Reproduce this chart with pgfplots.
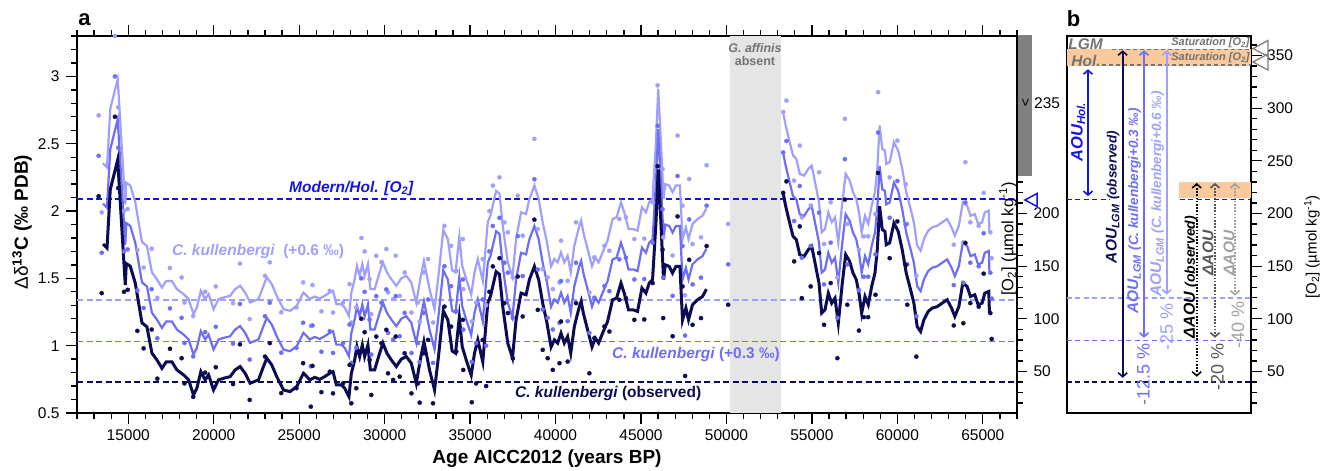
\documentclass[border=0pt]{standalone}
\usepackage{fontspec}
\setmainfont{Liberation Sans}
\usepackage{pgfplots}
\pgfplotsset{compat=1.18}
\usepackage{pgfplotstable}
\usetikzlibrary{arrows.meta}
\newcommand{\fs}[1]{\fontsize{#1}{#1}\selectfont}
\definecolor{navy}{RGB}{12,12,85}
\definecolor{midb}{RGB}{110,110,245}
\definecolor{lightb}{RGB}{160,160,252}
\definecolor{holblue}{RGB}{20,20,230}
\definecolor{gband}{RGB}{229,229,229}
\definecolor{gbar}{RGB}{128,128,128}
\definecolor{orangeb}{RGB}{250,201,156}
\definecolor{dgray}{RGB}{85,85,85}
\definecolor{lgray}{RGB}{160,160,160}
\definecolor{txtgray}{RGB}{115,115,115}

\pgfplotstableread{
a d
13522 1.755
13755 1.725
13948 2.16
14381 2.38
14825 1.45
14883 1.61
15117 1.59
15409 1.465
15800 1.17
16093 1.14
16385 0.944
16677 0.894
16969 0.832
17220 0.88
17553 0.88
17845 0.82
18235 0.783
18527 0.746
18820 0.634
19013 0.684
19247 0.807
19499 0.746
19698 0.783
19990 0.671
20282 0.746
20574 0.758
20960 0.77
21252 0.82
21544 0.845
21836 0.795
22128 0.721
22619 0.746
22911 0.845
23104 0.907
23396 0.857
23688 0.77
24080 0.671
24466 0.659
24857 0.696
25248 0.795
25450 0.77
25617 0.746
25909 0.765
26201 0.75
26493 0.77
26785 0.795
26980 0.807
27176 0.708
27468 0.708
27662 0.684
27913 0.621
28053 0.795
28246 0.894
28380 0.993
28539 0.919
28695 1.006
28830 0.919
29023 1.006
29163 0.82
29415 0.82
29707 0.944
29900 1.019
30134 0.944
30391 0.894
30683 0.845
30975 0.9
31267 0.919
31559 0.87
31851 0.72
32085 0.894
32300 1.03
32628 0.82
32920 0.671
33172 0.944
33430 1.26
33698 1.192
33950 0.96
34147 0.944
34370 1.21
34539 0.993
34773 0.894
35065 0.78
35258 0.944
35451 1.043
35743 0.88
36035 1.316
36200 1.37
36525 1.55
36719 1.53
36912 1.29
37204 1.019
37480 0.91
37691 1.192
37983 1.39
38275 1.378
38470 1.49
38762 1.589
39013 1.49
39247 1.316
39481 1.18
39738 0.99
39930 1.043
40125 1.019
40320 1.093
40514 1.019
40707 1.068
40890 0.944
41099 1.142
41391 1.29
41500 1.33
41625 1.242
41876 1.118
42133 0.99
42326 1.056
42519 1.019
42753 1.093
43045 1.18
43337 1.341
43571 1.353
43828 1.465
44020 1.39
44272 1.266
44546 1.266
44798 1.254
45055 1.428
45289 1.39
45481 1.465
45676 1.49
45874 1.91
46009 2.308
46167 1.91
46319 1.49
46420 1.6
46652 1.589
46845 1.54
47043 1.589
47277 1.589
47429 1.19
47628 1.279
47780 1.192
48013 1.304
48305 1.341
48597 1.365
48831 1.42
}\lineA

\pgfplotstableread{
a d
53312 2.135
53468 2.035
53702 1.91
53895 1.812
54090 1.787
54288 1.676
54539 1.663
54790 1.713
54989 1.737
55222 1.589
55415 1.465
55573 1.242
55766 1.266
55960 1.39
56158 1.316
56351 1.353
56544 1.167
56778 1.465
56976 1.676
57210 1.626
57403 1.54
57596 1.49
57754 1.39
57912 1.242
58105 1.365
58298 1.304
58497 1.44
58690 1.54
58824 1.713
58964 2.035
59116 1.862
59274 1.849
59350 1.75
59548 1.763
59799 1.91
60050 1.849
60284 1.713
60518 1.54
60775 1.415
60967 1.316
61160 1.142
61359 1.105
61552 1.192
61803 1.254
62037 1.279
62329 1.29
62621 1.316
62913 1.341
63170 1.279
63363 1.217
63597 1.29
63831 1.465
64082 1.44
64279 1.365
64531 1.378
64724 1.304
64958 1.316
65115 1.39
65349 1.403
65388 1.242
}\lineB

\pgfplotstableread{
a d
13265 2.11
13446 1.39
14220 2.70
14414 2.17
14750 1.40
14965 1.415
15530 1.11
15900 0.98
16370 1.12
16700 0.755
17440 0.977
18120 0.907
18290 0.72
18800 0.62
19500 0.80
20120 0.84
21130 0.715
21535 1.01
22105 0.597
23000 0.919
23280 1.019
23950 0.648
24840 0.684
25230 0.87
25680 0.547
25780 0.85
26300 0.655
26790 0.807
26980 0.646
27570 0.72
27950 0.857
28050 0.572
28340 0.684
28640 1.2
28830 1.1
29120 0.894
29220 0.634
29510 1.068
29810 1.019
30100 1.118
30200 0.795
30500 0.746
30650 1.068
30880 0.77
31170 0.944
31570 0.646
31950 0.72
32050 0.577
32280 0.944
32540 1.043
32830 0.572
33500 1.29
33890 1.142
34190 0.956
34580 1.192
34600 0.82
35100 0.58
35350 0.72
35740 1.043
35940 0.70
36130 1.40
36330 1.589
36720 1.65
37010 1.316
37210 1.242
37500 0.907
37790 1.514
38080 1.217
38760 1.936
38960 1.266
39250 0.969
39540 0.907
39840 0.82
40230 0.87
40320 1.18
40710 0.882
41200 1.316
41980 0.795
42270 1.056
42860 1.142
43150 1.105
43730 1.341
44120 1.353
44610 1.192
45190 1.195
45680 1.465
45970 2.333
46260 1.713
46300 1.205
46850 1.07
47140 1.96
47430 1.44
47580 0.775
47820 1.638
48020 1.155
48510 1.205
48840 1.74
50100 1.304
53320 2.135
53510 2.22
53960 1.626
54290 1.886
54410 1.353
54930 1.44
55420 1.688
55710 1.155
56100 1.465
56490 0.907
56930 2.085
57070 1.304
57750 1.112
58040 1.212
58290 1.212
58720 1.378
58870 2.283
59550 1.65
60000 1.923
60490 1.60
60580 1.304
61110 0.919
63300 1.15
63860 1.167
63980 1.763
64270 1.316
64760 1.29
65050 1.535
65440 1.242
65520 1.05
}\dots

\begin{document}
\begin{tikzpicture}[x=1pt,y=1pt]
\path[use as bounding box] (0,0) rectangle (1331,471);
% ---------- panel a ----------
\begin{axis}[
  at={(77pt,58pt)}, anchor=south west, scale only axis,
  width=940pt, height=377pt,
  xmin=12000, xmax=67000, ymin=0.5, ymax=3.3,
  axis line style={line width=1.6pt},
  every tick/.append style={black, line width=1.3pt},
  tick align=outside,
  major tick length=11pt, minor tick length=6pt,
  xtick={15000,20000,...,65000},
  minor xtick={12000,13000,...,67000},
  xtick pos=both,
  ytick={0.5,1,1.5,2,2.5,3},
  minor ytick={0.6,0.7,0.8,0.9,1.1,1.2,1.3,1.4,1.6,1.7,1.8,1.9,2.1,2.2,2.3,2.4,2.6,2.7,2.8,2.9,3.1,3.2,3.3},
  ytick pos=left,
  scaled x ticks=false,
  /pgf/number format/assume math mode=true,
  xticklabel style={/pgf/number format/1000 sep={}, font=\fs{15.5}, yshift=-2pt},
  yticklabel style={font=\fs{15.5}, xshift=-3pt},
  clip=true,
]
\fill[gband] (50200,0.5) rectangle (53200,3.3);
\draw[navy, line width=1.3pt, dash pattern=on 6pt off 3.5pt] (12000,0.73) -- (67000,0.73);
\draw[midb, line width=1.3pt, dash pattern=on 6pt off 3.5pt] (12000,1.03) -- (67000,1.03);
\draw[lightb, line width=1.3pt, dash pattern=on 6pt off 3.5pt] (12000,1.34) -- (67000,1.34);
\draw[holblue, line width=1.3pt, dash pattern=on 6pt off 3.5pt] (12000,2.09) -- (67000,2.09);
% light (+0.6)
\addplot[only marks, mark=*, mark size=2.1pt, lightb, mark options={draw=lightb, fill=lightb, line width=0.3pt}] table[x=a, y expr=\thisrow{d}+0.6] \dots;
\addplot[lightb, line width=2.2pt, no marks] table[x=a, y expr=\thisrow{d}+0.6] \lineA;
\addplot[lightb, line width=2.2pt, no marks] table[x=a, y expr=\thisrow{d}+0.6] \lineB;
% medium (+0.3)
\addplot[only marks, mark=*, mark size=2.1pt, midb, mark options={draw=midb, fill=midb, line width=0.3pt}] table[x=a, y expr=\thisrow{d}+0.3] \dots;
\addplot[midb, line width=2.2pt, no marks] table[x=a, y expr=\thisrow{d}+0.3] \lineA;
\addplot[midb, line width=2.2pt, no marks] table[x=a, y expr=\thisrow{d}+0.3] \lineB;
% observed
\addplot[only marks, mark=*, mark size=2.1pt, navy, mark options={draw=navy, fill=navy, line width=0.3pt}] table[x=a, y=d] \dots;
\addplot[navy, line width=3pt, no marks] table[x=a, y=d] \lineA;
\addplot[navy, line width=3pt, no marks] table[x=a, y=d] \lineB;
\end{axis}
% right O2 axis of panel a
\begin{axis}[
  at={(77pt,58pt)}, anchor=south west, scale only axis,
  width=940pt, height=377pt,
  xmin=0, xmax=1, ymin=10.6, ymax=368.5,
  hide x axis, axis y line*=right,
  axis line style={line width=1.6pt},
  every tick/.append style={black, line width=1.3pt},
  tick align=outside, major tick length=10pt, minor tick length=5.5pt,
  ytick={50,100,150,200},
  minor ytick={20,30,40,60,70,80,90,110,120,130,140,160,170,180,190,210,220,230},
  /pgf/number format/assume math mode=true,
  yticklabel style={font=\fs{15.5}, xshift=3pt},
]
\addplot[draw=none] coordinates {(0,50)};
\end{axis}
% ---------- panel b ----------
\begin{axis}[
  at={(1066.7pt,58pt)}, anchor=south west, scale only axis,
  width=184pt, height=377pt,
  xmin=0, xmax=184, ymin=10.6, ymax=368.5,
  axis line style={line width=1.8pt},
  every tick/.append style={black, line width=1.3pt},
  tick align=outside, major tick length=11pt, minor tick length=6pt,
  xtick=\empty,
  ytick={50,100,...,350},
  minor ytick={20,30,40,60,70,80,90,110,120,130,140,160,170,180,190,210,220,230,240,260,270,280,290,310,320,330,340,360},
  ytick pos=right, yticklabel pos=right,
  /pgf/number format/assume math mode=true,
  yticklabel style={font=\fs{15.5}, xshift=2pt},
  clip=false,
]
\addplot[draw=none] coordinates {(0,50)};
\fill[orangeb] (0,340) rectangle (184,356.5);
\fill[orangeb] (112.3,214.7) rectangle (184,230);
\draw[txtgray, line width=1.1pt, dash pattern=on 4pt off 3pt] (45,356) -- (184,356);
\draw[txtgray, line width=1.1pt, dash pattern=on 4pt off 3pt] (35,341) -- (184,341);
\draw[holblue, line width=1.2pt, dash pattern=on 5pt off 3.5pt] (0,213.5) -- (43,213.5);
\draw[holblue, line width=1.2pt, dash pattern=on 5pt off 3.5pt] (113,213.5) -- (184,213.5);
\draw[lightb, line width=1.2pt, dash pattern=on 5pt off 3.5pt] (0,119.8) -- (184,119.8);
\draw[midb, line width=1.2pt, dash pattern=on 5pt off 3.5pt] (0,79.2) -- (184,79.2);
\draw[navy, line width=1.2pt, dash pattern=on 5pt off 3.5pt] (0,40) -- (184,40);
% arrows
\draw[holblue, line width=1.6pt, {Straight Barb[length=4pt,width=9pt]}-{Straight Barb[length=4pt,width=9pt]}] (21.3,337) -- (21.3,216.5);
\draw[navy, line width=1.6pt, {Straight Barb[length=4pt,width=9pt]}-{Straight Barb[length=4pt,width=9pt]}] (56,355) -- (56,44);
\draw[midb, line width=1.6pt, {Straight Barb[length=4pt,width=9pt]}-{Straight Barb[length=4pt,width=9pt]}] (77.3,355) -- (77.3,82);
\draw[lightb, line width=1.6pt, {Straight Barb[length=4pt,width=9pt]}-{Straight Barb[length=4pt,width=9pt]}] (100,355) -- (100,123);
\draw[black, line width=1.6pt, dash pattern=on 1.6pt off 1.6pt, {Straight Barb[length=4pt,width=9pt]}-{Straight Barb[length=4pt,width=9pt]}] (130,229) -- (130,45);
\draw[dgray, line width=1.6pt, dash pattern=on 1.6pt off 1.6pt, {Straight Barb[length=4pt,width=9pt]}-{Straight Barb[length=4pt,width=9pt]}] (148.3,229) -- (148.3,82);
\draw[lgray, line width=1.6pt, dash pattern=on 1.6pt off 1.6pt, {Straight Barb[length=4pt,width=9pt]}-{Straight Barb[length=4pt,width=9pt]}] (168.3,229) -- (168.3,122);
% texts
\node[txtgray, inner sep=0] at (18.8,361) {\fs{15.5}\bfseries\itshape LGM};
\node[txtgray, inner sep=0] at (19.3,344.8) {\fs{15.5}\bfseries\itshape Hol.};
\node[txtgray, anchor=east, inner sep=0] at (183,362) {\fs{11}\bfseries\itshape Saturation [O\textsubscript{2}]};
\node[txtgray, anchor=east, inner sep=0] at (183,347.6) {\fs{11}\bfseries\itshape Saturation [O\textsubscript{2}]};
\node[holblue, rotate=90, inner sep=0] at (11.5,277.5) {\fs{16.5}\bfseries\itshape AOU\textsubscript{Hol.}};
\node[navy, rotate=90, inner sep=0] at (46,215.7) {\fs{15.5}\bfseries\itshape AOU\textsubscript{LGM} {\fs{13.5}(observed)}};
\node[midb, rotate=90, inner sep=0] at (67.5,202.4) {\fs{15.5}\bfseries\itshape AOU\textsubscript{LGM} {\fs{13.5}(C. kullenbergi+0.3 ‰)}};
\node[lightb, rotate=90, inner sep=0] at (90.5,218.5) {\fs{15.5}\bfseries\itshape AOU\textsubscript{LGM} {\fs{13.5}(C. kullenbergi+0.6 ‰)}};
\node[midb, rotate=90, inner sep=0] at (76.7,46.7) {\fs{18}-12.5 \%};
\node[lightb, rotate=90, inner sep=0] at (100,92) {\fs{18}-25 \%};
\node[black, rotate=90, inner sep=0] at (124,139.7) {\fs{16}\bfseries\itshape ΔAOU {\fs{14}(observed)}};
\node[dgray, rotate=90, inner sep=0] at (141.3,162.5) {\fs{15.5}\bfseries\itshape ΔAOU};
\node[lgray, rotate=90, inner sep=0] at (162.3,162.5) {\fs{15.5}\bfseries\itshape ΔAOU};
\node[dgray, rotate=90, inner sep=0] at (150.8,54.3) {\fs{18}-20 \%};
\node[lgray, rotate=90, inner sep=0] at (171.3,94) {\fs{18}-40 \%};
\end{axis}
% ---------- free annotations ----------
\fill[gbar] (1018,295) rectangle (1032,436);
\node[rotate=-90, inner sep=0] at (1025,368) {\fs{14}>};
\node[anchor=west, inner sep=0] at (1034,368) {\fs{15.5}235};
\draw[holblue, line width=1.5pt] (1025,271) -- (1037,277.5) -- (1037,264.5) -- cycle;
\draw[gray, line width=1.3pt] (1253,422.5) -- (1268,430.5) -- (1268,414.5) -- cycle;
\draw[gray, line width=1.3pt] (1253,409) -- (1268,417) -- (1268,401) -- cycle;
\node[holblue, anchor=west, inner sep=0] at (289,283) {\fs{15.5}\bfseries\itshape Modern/Hol. [O\textsubscript{2}]};
\node[lightb, anchor=west, inner sep=0] at (172,220) {\fs{15.5}\bfseries\itshape C. kullenbergi\ \ \upshape(+0.6 ‰)};
\node[midb, anchor=west, inner sep=0] at (612,117) {\fs{15.5}\bfseries\itshape C. kullenbergi \upshape(+0.3 ‰)};
\node[navy, anchor=west, inner sep=0] at (515,78) {\fs{15.5}\bfseries\itshape C. kullenbergi \upshape(observed)};
\node[txtgray, align=center, inner sep=0, font=\fs{12.5}\bfseries] at (755,416.5) {\itshape G. affinis\\[1pt]absent};
\node[inner sep=0] at (84.5,451) {\fs{22}\bfseries a};
\node[inner sep=0] at (1073.5,452) {\fs{22}\bfseries b};
\node[inner sep=0] at (547,12) {\fs{19}\bfseries Age AICC2012 (years BP)};
\node[rotate=90, inner sep=0] at (22,249) {\fs{19}\bfseries{\mdseries Δδ}\textsuperscript{13}C (‰ PDB)};
\node[rotate=90, inner sep=0] at (1008,232) {\fs{16.5}[O\textsubscript{2}] (µmol kg\textsuperscript{-1})};
\node[rotate=90, inner sep=0] at (1312,224) {\fs{15}[O\textsubscript{2}] (µmol kg\textsuperscript{-1})};
\end{tikzpicture}
\end{document}
